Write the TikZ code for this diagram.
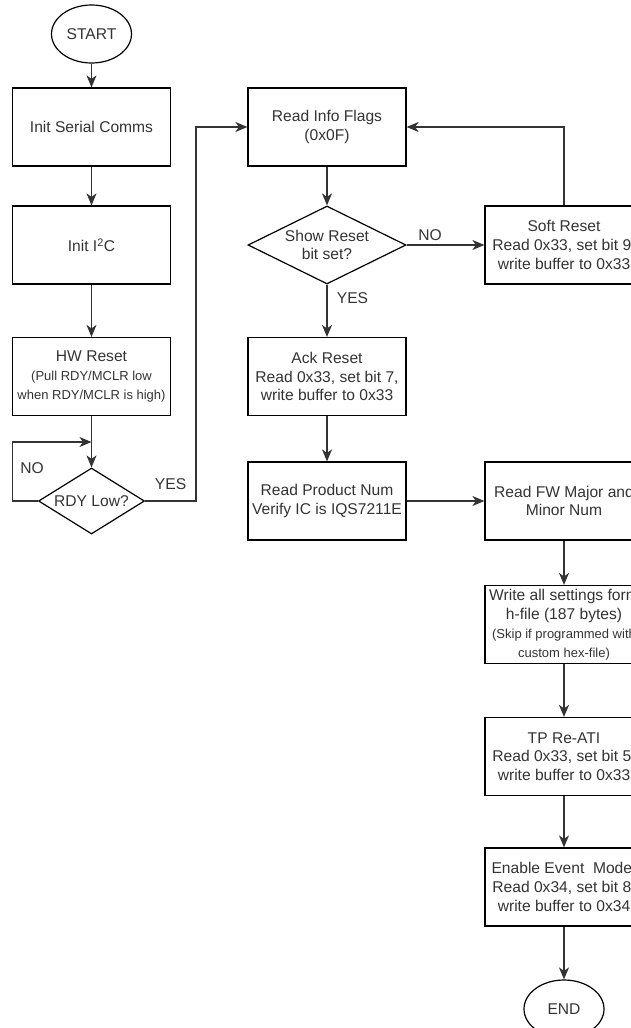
\documentclass[tikz,border=0pt]{standalone}
\usepackage{fontspec}
\setmainfont{Liberation Sans}
\usetikzlibrary{arrows.meta, shapes.geometric}

\definecolor{inkgray}{HTML}{333333}
\newcommand{\smalltxt}{\fontsize{13}{17}\selectfont}

\begin{document}
\begin{tikzpicture}[x = 1pt, y = -1pt, > = {Stealth[length = 12pt, width = 10pt, inset = 3.5pt]},
	every node/.style = {text = inkgray, font = \fontsize{15.6}{18.8}\selectfont},
	box/.style = {draw = black, line width = 1.2pt, minimum width = 158pt, minimum height = 78pt, inner sep = 0pt, align = center},
	terminal/.style = {draw = black, line width = 1.2pt, ellipse, minimum width = 80pt, minimum height = 58pt, inner sep = 0pt},
	decision/.style = {draw = black, line width = 1.2pt, diamond, inner sep = 0pt, align = center},
	flow/.style = {draw = inkgray, line width = 1.2pt, ->}]

	\useasboundingbox (0, 0) rectangle (631, 1028);
	\clip (0, 0) rectangle (631, 1028);

	% Start-up column
	
	\node [terminal] (start) at (91.5, 34) {START};
	\node [box] (serial) at (91.5, 127) {Init Serial Comms};
	\node [box] (itwoc) at (91.5, 245) {Init I\textsuperscript{2}C};
	\node [box] (hwreset) at (91.5, 376.5) {HW Reset\\\smalltxt (Pull RDY/MCLR low\\\smalltxt when RDY/MCLR is high)};
	\node [decision, minimum width = 106pt, minimum height = 66pt, shape aspect = 1.6] (rdylow) at (91.5, 501) {RDY Low?};
	\coordinate (loopin) at (91.5, 442);
	\coordinate (yesturn) at (196, 501);
	\node (nolabel) at (32, 468) {NO};
	
	% Reset handling column
	
	\node [box] (flags) at (327, 127) {Read Info Flags\\(0x0F)};
	\node [decision, minimum width = 158pt, minimum height = 78pt, shape aspect = 2] (showreset) at (327, 245) {Show Reset\\bit set?};
	\node [box] (ackreset) at (327, 376.5) {Ack Reset\\Read 0x33, set bit 7,\\write buffer to 0x33};
	\node [box] (product) at (327, 501) {Read Product Num\\Verify IC is IQS7211E};
	
	% Settings column (runs off the page edge)
	
	\node [box] (softreset) at (564, 245) {Soft Reset\\Read 0x33, set bit 9,\\write buffer to 0x33};
	\node [box] (fwnum) at (564, 501) {Read FW Major and\\Minor Num};
	\node [box] (settings) at (564, 624.5) {Write all settings form\\h-file (187 bytes)\\\smalltxt (Skip if programmed with\\\smalltxt custom hex-file)};
	\node [box] (reati) at (564, 756.5) {TP Re-ATI\\Read 0x33, set bit 5,\\write buffer to 0x33};
	\node [box] (eventmode) at (564, 887) {Enable Event~~Mode,\\Read 0x34, set bit 8,\\write buffer to 0x34};
	\node [terminal] (end) at (564, 1009) {END};
	
	% Connectors
	
	\draw [flow] (start) -- (serial);
	\draw [flow] (serial) -- (itwoc);
	\draw [flow] (itwoc) -- (hwreset);
	\draw [flow] (hwreset) -- (rdylow);
	\draw [flow] (rdylow.west) -- ++ (-25.5, 0) |- (loopin);
	\draw [flow] (rdylow.east) -- node [above = 7pt] {YES} (yesturn) |- (flags.west);
	
	\draw [flow] (flags) -- (showreset);
	\draw [flow] (showreset) -- node [pos = 0.25, right = 6pt] {YES} (ackreset);
	\draw [flow] (showreset) -- node [pos = 0.3, above] {NO} (softreset);
	\draw [flow] (softreset.north) |- (flags.east);
	\draw [flow] (ackreset) -- (product);
	\draw [flow] (product) -- (fwnum);
	
	\draw [flow] (fwnum) -- (settings);
	\draw [flow] (settings) -- (reati);
	\draw [flow] (reati) -- (eventmode);
	\draw [flow] (eventmode) -- (end);
	
\end{tikzpicture}
\end{document}
